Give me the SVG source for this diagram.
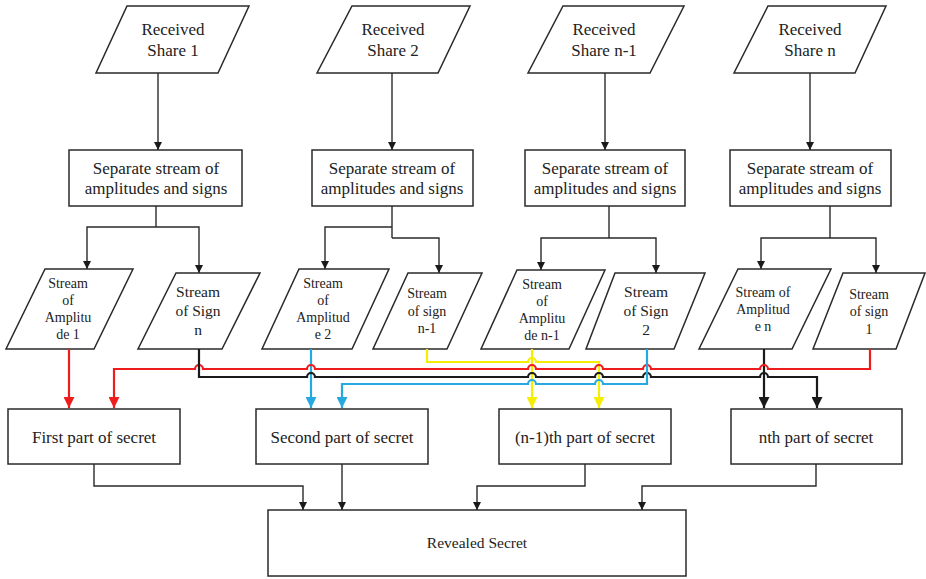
<svg xmlns="http://www.w3.org/2000/svg" width="926" height="579" viewBox="0 0 926 579">
<style>
.shape{fill:#fff;stroke:#2a2a2a;stroke-width:1.5}
.t{font-family:'Liberation Serif','DejaVu Serif',serif;fill:#222;text-anchor:middle}
.t17{font-size:17px}
.t15{font-size:15.5px}
.t14{font-size:14px}
.conn{fill:none;stroke:#2a2a2a;stroke-width:1.4}
.red{fill:none;stroke:#ee1c1c;stroke-width:2.2}
.blk{fill:none;stroke:#1a1a1a;stroke-width:2.2}
.yel{fill:none;stroke:#f5ee00;stroke-width:2.2}
.blu{fill:none;stroke:#25a9e0;stroke-width:2.2}
</style>
<defs>
<marker id="ak" viewBox="0 0 10 10" refX="10" refY="5" markerWidth="8" markerHeight="8" markerUnits="userSpaceOnUse" orient="auto"><path d="M0,0 L10,5 L0,10 z" fill="#1a1a1a"/></marker>
<marker id="akb" viewBox="0 0 10 10" refX="10" refY="5" markerWidth="11" markerHeight="11" markerUnits="userSpaceOnUse" orient="auto"><path d="M0,0 L10,5 L0,10 z" fill="#1a1a1a"/></marker>
<marker id="ar" viewBox="0 0 10 10" refX="10" refY="5" markerWidth="11" markerHeight="11" markerUnits="userSpaceOnUse" orient="auto"><path d="M0,0 L10,5 L0,10 z" fill="#ee1c1c"/></marker>
<marker id="ay" viewBox="0 0 10 10" refX="10" refY="5" markerWidth="11" markerHeight="11" markerUnits="userSpaceOnUse" orient="auto"><path d="M0,0 L10,5 L0,10 z" fill="#f5ee00"/></marker>
<marker id="ab" viewBox="0 0 10 10" refX="10" refY="5" markerWidth="11" markerHeight="11" markerUnits="userSpaceOnUse" orient="auto"><path d="M0,0 L10,5 L0,10 z" fill="#25a9e0"/></marker>
</defs>
<rect width="926" height="579" fill="#fff"/>

<g id="share1"><polygon class="shape" points="127,6 249,6 218,73 96,73"/><text class="t t17" x="173" y="35" font-family="Liberation Serif, serif">Received</text><text class="t t17" x="173" y="56" font-family="Liberation Serif, serif">Share 1</text></g>
<g id="share2"><polygon class="shape" points="352,6 470,6 438,73 317,73"/><text class="t t17" x="393" y="35">Received</text><text class="t t17" x="393" y="56">Share 2</text></g>
<g id="sharen1"><polygon class="shape" points="563,6 684,6 650,73 528,73"/><text class="t t17" x="604" y="35">Received</text><text class="t t17" x="604" y="56">Share n-1</text></g>
<g id="sharen"><polygon class="shape" points="768,6 886,6 855,73 734,73"/><text class="t t17" x="810" y="35">Received</text><text class="t t17" x="810" y="56">Share n</text></g>

<g id="sep1"><rect class="shape" x="69" y="150" width="173" height="56"/><text class="t t17" x="156" y="174">Separate stream of</text><text class="t t17" x="156" y="194">amplitudes and signs</text></g>
<g id="sep2"><rect class="shape" x="312" y="150" width="161" height="56"/><text class="t t17" x="392" y="174">Separate stream of</text><text class="t t17" x="392" y="194">amplitudes and signs</text></g>
<g id="sepn1"><rect class="shape" x="525" y="150" width="160" height="56"/><text class="t t17" x="605" y="174">Separate stream of</text><text class="t t17" x="605" y="194">amplitudes and signs</text></g>
<g id="sepn"><rect class="shape" x="730" y="150" width="161" height="56"/><text class="t t17" x="810" y="174">Separate stream of</text><text class="t t17" x="810" y="194">amplitudes and signs</text></g>

<g id="amp1"><polygon class="shape" points="45,269 133,269 94,349 6,349"/><text class="t t14" x="68" y="288">Stream</text><text class="t t14" x="68" y="305">of</text><text class="t t14" x="68" y="322">Amplitu</text><text class="t t14" x="68" y="339">de 1</text></g>
<g id="signn"><polygon class="shape" points="176,273 260,273 222,349 138,349"/><text class="t t15" x="198" y="297">Stream</text><text class="t t15" x="198" y="316">of Sign</text><text class="t t15" x="198" y="335">n</text></g>
<g id="amp2"><polygon class="shape" points="299,269 389,269 352,349 262,349"/><text class="t t14" x="323" y="288">Stream</text><text class="t t14" x="323" y="305">of</text><text class="t t14" x="323" y="322">Amplitud</text><text class="t t14" x="323" y="339">e 2</text></g>
<g id="signn1"><polygon class="shape" points="408,273 482,273 447,349 373,349"/><text class="t t14" x="427" y="298">Stream</text><text class="t t14" x="427" y="315.5">of sign</text><text class="t t14" x="427" y="333">n-1</text></g>
<g id="ampn1"><polygon class="shape" points="517,270 605,270 569,349 481,349"/><text class="t t14" x="542" y="289">Stream</text><text class="t t14" x="542" y="306">of</text><text class="t t14" x="542" y="323">Amplitu</text><text class="t t14" x="542" y="340">de n-1</text></g>
<g id="sign2"><polygon class="shape" points="615,273 705,273 674,349 586,349"/><text class="t t15" x="646" y="297">Stream</text><text class="t t15" x="646" y="316">of Sign</text><text class="t t15" x="646" y="335">2</text></g>
<g id="ampn"><polygon class="shape" points="738,269 831,269 792,349 699,349"/><text class="t t14" x="763" y="297">Stream of</text><text class="t t14" x="763" y="314">Amplitud</text><text class="t t14" x="763" y="331">e n</text></g>
<g id="sign1"><polygon class="shape" points="843,273 925,273 896,349 813,349"/><text class="t t14" x="869" y="299">Stream</text><text class="t t14" x="869" y="316">of sign</text><text class="t t14" x="869" y="334">1</text></g>

<g id="part1"><rect class="shape" x="8" y="409" width="172" height="55"/><text class="t t17" x="94" y="443">First part of secret</text></g>
<g id="part2"><rect class="shape" x="256" y="409" width="172" height="55"/><text class="t t17" x="342" y="443">Second part of secret</text></g>
<g id="partn1"><rect class="shape" x="499" y="409" width="172" height="55"/><text class="t t17" x="585" y="443">(n-1)th part of secret</text></g>
<g id="partn"><rect class="shape" x="731" y="409" width="171" height="55"/><text class="t t17" x="816" y="443">nth part of secret</text></g>

<g id="revealed"><rect class="shape" x="268" y="510" width="418" height="66"/><text class="t t15" x="477" y="548">Revealed Secret</text></g>

<g id="connectors">
<path class="conn" marker-end="url(#ak)" d="M158,73 V150"/>
<path class="conn" marker-end="url(#ak)" d="M392,73 V150"/>
<path class="conn" marker-end="url(#ak)" d="M605,73 V150"/>
<path class="conn" marker-end="url(#ak)" d="M810,73 V150"/>

<path class="conn" d="M156,206 V227"/>
<path class="conn" marker-end="url(#ak)" d="M156,227 H87 V269"/>
<path class="conn" marker-end="url(#ak)" d="M156,227 H199 V273"/>
<path class="conn" d="M392,206 V238"/>
<path class="conn" marker-end="url(#ak)" d="M392,227 H325 V269"/>
<path class="conn" marker-end="url(#ak)" d="M392,238 H439 V273"/>
<path class="conn" d="M609,206 V238"/>
<path class="conn" marker-end="url(#ak)" d="M609,238 H541 V270"/>
<path class="conn" marker-end="url(#ak)" d="M609,238 H656 V273"/>
<path class="conn" d="M830,206 V238"/>
<path class="conn" marker-end="url(#ak)" d="M830,238 H761 V269"/>
<path class="conn" marker-end="url(#ak)" d="M830,238 H876 V273"/>

<path class="red" marker-end="url(#ar)" d="M69,349 V408"/>
<path class="blu" marker-end="url(#ab)" d="M311,349 V408"/>
<path class="yel" marker-end="url(#ay)" d="M532,349 V408"/>
<path class="blk" marker-end="url(#akb)" d="M764,349 V408"/>

<path class="yel" marker-end="url(#ay)" d="M427,349 V362 H528 A4 4 0 0 1 536,362 H599 V408"/>
<path class="red" marker-end="url(#ar)" d="M870,349 V369 H768 A4 4 0 0 0 760,369 H651 A4 4 0 0 0 643,369 H603 A4 4 0 0 0 595,369 H536 A4 4 0 0 0 528,369 H315 A4 4 0 0 0 307,369 H203 A4 4 0 0 0 195,369 H114 V408"/>
<path class="blk" marker-end="url(#akb)" d="M199,349 V377 H307 A4 4 0 0 1 315,377 H528 A4 4 0 0 1 536,377 H595 A4 4 0 0 1 603,377 H643 A4 4 0 0 1 651,377 H760 A4 4 0 0 1 768,377 H817 V408"/>
<path class="blu" marker-end="url(#ab)" d="M647,349 V384 H603 A4 4 0 0 0 595,384 H536 A4 4 0 0 0 528,384 H342 V408"/>

<path class="conn" marker-end="url(#ak)" d="M94,464 V486 H303 V510"/>
<path class="conn" marker-end="url(#ak)" d="M342,464 V510"/>
<path class="conn" marker-end="url(#ak)" d="M585,464 V486 H477 V510"/>
<path class="conn" marker-end="url(#ak)" d="M816,464 V486 H642 V510"/>
</g>
</svg>
